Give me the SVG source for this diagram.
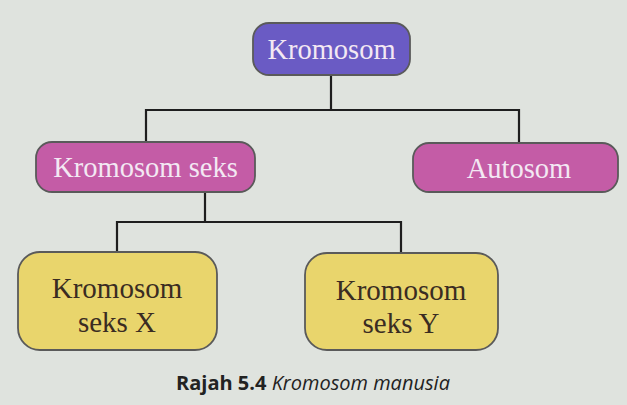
<svg xmlns="http://www.w3.org/2000/svg" width="627" height="405" viewBox="0 0 627 405">
<style>
.box{stroke:#5a5a5a;stroke-width:1.8}
.purple{fill:#6a5bc4}
.pink{fill:#c45ca6}
.yellow{fill:#e9d56c}
.lt{font-family:"Liberation Serif",serif;font-size:28.5px;fill:#f3e8f3;text-anchor:middle}
.dt{font-family:"Liberation Serif",serif;font-size:29px;fill:#3a2c22;text-anchor:middle}
.conn{fill:none;stroke:#1e1e1e;stroke-width:2.2}
.cap{font-family:"Open Sans","Liberation Sans",sans-serif;font-size:20px;fill:#222}
</style>
<rect width="627" height="405" fill="#dfe3de"/>
<g id="connectors">
<path class="conn" d="M331 76 V110 M146 141 V110 H519 V142"/>
<path class="conn" d="M205 192 V222 M117 252 V222 H401 V253"/>
</g>
<g id="n-kromosom">
<rect class="box purple" x="253" y="23" width="157" height="52" rx="16"/>
<text class="lt" x="331.5" y="59">Kromosom</text>
</g>
<g id="n-seks">
<rect class="box pink" x="36" y="142" width="219" height="50" rx="16"/>
<text class="lt" x="145.5" y="177">Kromosom seks</text>
</g>
<g id="n-autosom">
<rect class="box pink" x="413" y="143" width="205" height="49" rx="16"/>
<text class="lt" x="519" y="178">Autosom</text>
</g>
<g id="n-x">
<rect class="box yellow" x="18" y="252" width="199" height="98" rx="22"/>
<text class="dt" x="117" y="298">Kromosom</text>
<text class="dt" x="117" y="332">seks X</text>
</g>
<g id="n-y">
<rect class="box yellow" x="305" y="253" width="193" height="97" rx="22"/>
<text class="dt" x="401" y="300">Kromosom</text>
<text class="dt" x="401" y="333">seks Y</text>
</g>
<text class="cap" x="313" y="390" text-anchor="middle"><tspan font-weight="bold">Rajah 5.4</tspan> <tspan font-style="italic">Kromosom manusia</tspan></text>
</svg>
